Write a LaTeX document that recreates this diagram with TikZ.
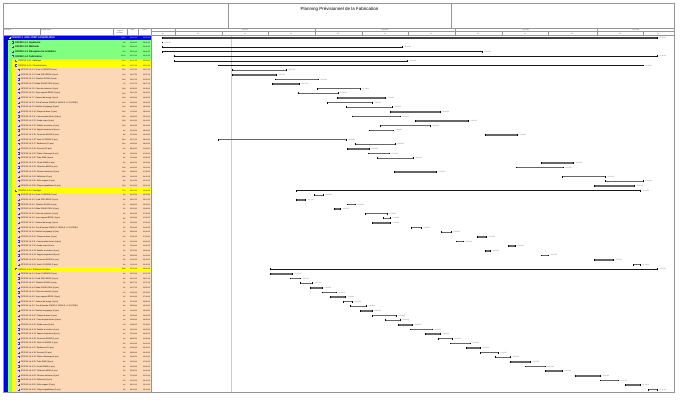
\documentclass[tikz,border=0pt]{standalone}
\usepackage{fontspec}
\setmainfont{Liberation Sans}
\usetikzlibrary{calc}
\definecolor{wbsblue}{RGB}{0,0,235}
\definecolor{wbsgreen}{RGB}{128,255,128}
\definecolor{wbsyellow}{RGB}{255,255,0}
\definecolor{actorange}{RGB}{253,216,182}
\definecolor{cadre}{RGB}{150,150,150}
\definecolor{dateline}{RGB}{200,200,232}
\definecolor{iconblue}{RGB}{40,60,200}
\tikzset{
  titre/.style={inner sep=0pt, font=\fontsize{6.4}{7}\selectfont},
  colhd/.style={inner sep=0pt, font=\fontsize{2.3}{2.6}\selectfont, align=center, text=black!75},
  echelle/.style={inner sep=0pt, font=\fontsize{2.3}{2.6}\selectfont, text=black!75},
  bleutxt/.style={inner sep=0pt, anchor=west, text=white, font=\fontsize{3.6}{4}\selectfont\bfseries},
  verttxt/.style={inner sep=0pt, anchor=west, font=\fontsize{3.4}{4}\selectfont\bfseries},
  jaunetxt/.style={inner sep=0pt, anchor=west, font=\fontsize{3}{3.4}\selectfont},
  acttxt/.style={inner sep=0pt, anchor=west, font=\fontsize{2.8}{3}\selectfont},
  numtxt/.style={inner sep=0pt, anchor=east, font=\fontsize{2.5}{3}\selectfont},
  datetxt/.style={inner sep=0pt, anchor=west, text=black!60, font=\fontsize{2.3}{2.6}\selectfont},
  barre0/.style={line width=0.9mm, black!75},
  sumbar/.style={line width=0.45mm, black!90},
  actbar/.style={line width=0.7mm, black!60},
}
\newcommand{\rowtop}[1]{35.5+#1*4.63}
% date jj-mm-aa a partir de l'abscisse (x=38.5 : 01-06-12)
\newcommand{\dte}[1]{%
  \pgfmathtruncatemacro{\dnum}{round((#1-38.5)/4.55)}%
  \ifnum\dnum<30 \pgfmathtruncatemacro{\dday}{\dnum+1}\def\dmon{06}%
  \else\ifnum\dnum<61 \pgfmathtruncatemacro{\dday}{\dnum-29}\def\dmon{07}%
  \else\ifnum\dnum<92 \pgfmathtruncatemacro{\dday}{\dnum-60}\def\dmon{08}%
  \else\ifnum\dnum<122 \pgfmathtruncatemacro{\dday}{\dnum-91}\def\dmon{09}%
  \else\ifnum\dnum<153 \pgfmathtruncatemacro{\dday}{\dnum-121}\def\dmon{10}%
  \else \pgfmathtruncatemacro{\dday}{\dnum-152}\def\dmon{11}%
  \fi\fi\fi\fi\fi
  \ifnum\dday<10 0\fi\dday-\dmon-12}
\newcommand{\icone}[4]{% x, ligne, couleurs
  \pgfmathsetmacro{\yy}{35.5+(#2+0.5)*4.63}
  \fill[#3] ({#1},{\yy-1.1}) rectangle ({#1+2.2},{\yy+1.1});
  \fill[#4] ({#1+0.5},{\yy-0.6}) rectangle ({#1+1.2},{\yy+0.1});
}
\newcommand{\gbar}[4]{% style, ligne, debut, fin
  \pgfmathsetmacro{\yy}{35.5+(#2+0.5)*4.63}
  \draw[#1] (#3,\yy) -- (#4,\yy);
  \fill ({#3-0.5},{\yy-0.9}) rectangle ({#3+0.5},{\yy+0.9});
  \fill ({#4-0.5},{\yy-0.9}) rectangle ({#4+0.5},{\yy+0.9});
  \node[datetxt] (dt#2) at ({#4+2.5},\yy) {\dte{#4}};
}
\newcommand{\cols}[4]{% ligne, style, debut, fin
  \pgfmathsetmacro{\yy}{35.5+(#1+0.5)*4.63}
  \node[#2,numtxt] (du#1) at (125.5,\yy) {\pgfmathtruncatemacro{\du}{round((#4-#3)/4.55)+1}\du\,d};
  \node[#2,numtxt] (st#1) at (137.3,\yy) {\dte{#3}};
  \node[#2,numtxt] (fi#1) at (150.3,\yy) {\dte{#4}};
}
\newcommand{\wbsrow}[7]{% ligne, x texte, style, texte, debut, fin, barre
  \pgfmathsetmacro{\yy}{35.5+(#1+0.5)*4.63}
  \node[#3] (nm#1) at (#2,\yy) {#4};
  \cols{#1}{#3}{#5}{#6}
  \gbar{#7}{#1}{#5}{#6}
}
\newcommand{\actrow}[5]{% ligne, code, libelle, debut, fin
  \icone{17.5}{#1}{iconblue}{white}
  \pgfmathsetmacro{\yy}{35.5+(#1+0.5)*4.63}
  \node[acttxt] (nm#1) at (20.7,\yy) {#2\ \ #3};
  \cols{#1}{acttxt}{#4}{#5}
  \gbar{actbar}{#1}{#4}{#5}
}

\begin{document}
\begin{tikzpicture}[x=0.5mm,y=-0.5mm]
\useasboundingbox (0,0) rectangle (680,403);

% cartouche
\draw[cadre] (3,3) rectangle (674,28);
\draw[cadre] (228,3) -- (228,28);
\draw[cadre] (451,3) -- (451,28);
\node[titre] (titre) at (339.5,9.5) {Planning Prévisionnel de la Fabrication};

% fonds
\fill[wbsblue] (3,{\rowtop{0}}) rectangle (151,{\rowtop{1}});
\fill[wbsblue] (3,{\rowtop{1}}) rectangle (8.3,392);
\fill[wbsgreen] (8.3,{\rowtop{1}}) rectangle (151,{\rowtop{5}});
\fill[wbsgreen] (8.3,{\rowtop{5}}) rectangle (11.7,392);
\fill[wbsyellow] (11.7,{\rowtop{5}}) rectangle (151,{\rowtop{7}});
\fill[wbsyellow] (11.7,{\rowtop{7}}) rectangle (15,392);
\fill[actorange] (15,{\rowtop{7}}) rectangle (151,392);
\fill[wbsyellow] (11.7,{\rowtop{33}}) rectangle (151,{\rowtop{34}});
\fill[wbsyellow] (11.7,{\rowtop{50}}) rectangle (151,{\rowtop{51}});

% en-tetes
\draw[cadre] (3,28) rectangle (674,392);
\draw[cadre] (3,35.5) -- (674,35.5);
\foreach \x in {40,113,127,138}
  \draw[cadre] (\x,28) -- (\x,35.5);
\draw[cadre] (151,28) -- (151,392);
\node[colhd,anchor=north west] (hid) at (4,29) {Activity ID};
\node[colhd,anchor=north west] (hname) at (41,29) {Activity Name};
\node[colhd] (hdur) at (120,31.7) {Original\\Duration};
\node[colhd] (hstart) at (132.5,30.3) {Start};
\node[colhd] (hfin) at (144.5,30.3) {Finish};

% echelle de temps
\draw[cadre] (151,31.5) -- (674,31.5);
\foreach \x in {175,315,455,597}
  \draw[cadre] (\x,28) -- (\x,35.5);
\foreach \x in {222,268,362,408,502,548,643}
  \draw[cadre] (\x,31.5) -- (\x,35.5);
\foreach \x/\m in {245/Jul 2012,385/Aug 2012,526/Sep 2012,636/Oct 2012}
  \node[echelle] (m\x) at (\x,29.8) {\m};
\foreach \x/\j in {163/21,198/01,245/11,291/21,338/01,385/11,431/21,478/01,525/11,572/21,620/01,658/11}
  \node[echelle] (j\x) at (\x,33.5) {\j};

\draw[dateline] (231,35.5) -- (231,392);

% WBS
\icone{8.6}{0}{white}{wbsblue}
\wbsrow{0}{11.5}{bleutxt}{OF2012-1\ \ AHF-JORF LASFAR,GISA}{162}{657}{barre0}
\foreach \r in {1,...,4}
  \icone{11.8}{\r}{iconblue}{white};
\wbsrow{1}{15}{verttxt}{OF2012-1.1\ \ Ingénierie}{162}{162}{sumbar}
\wbsrow{2}{15}{verttxt}{OF2012-1.2\ \ Méthode}{162}{402}{sumbar}
\wbsrow{3}{15}{verttxt}{OF2012-1.3\ \ Réception de la Matière}{162}{482}{sumbar}
\wbsrow{4}{15}{verttxt}{OF2012-1.4\ \ Fabrication}{174}{657}{sumbar}
\foreach \r in {5,6,33,50}
  \icone{15.2}{\r}{iconblue}{white};
\wbsrow{5}{18.3}{jaunetxt}{OF2012-1.4.1\ \ Débitage}{174}{407}{sumbar}
\wbsrow{6}{18.3}{jaunetxt}{OF2012-1.4.2\ \ Chaudronnerie}{218}{643}{sumbar}
\wbsrow{33}{18.3}{jaunetxt}{OF2012-1.4.3\ \ Soudage}{296}{640}{sumbar}
\wbsrow{50}{18.3}{jaunetxt}{OF2012-1.4.4\ \ Traitement Surface}{270}{657}{sumbar}

% activites
\foreach \s/\e/\nm [count=\k] in {
  232/286/{Virole V1 Ø2500 (3 pcs)}, 232/276/{Fond GRC Ø2500 (2 pcs)},
  275/318/{Tubulure DN150 (4 pcs)}, 272/299/{Bride DN150 PN16 (4 pcs)},
  317/360/{Cône de réduction (1 pcs)}, 298/338/{Jupe support Ø2500 (1 pcs)},
  337/385/{Anneau de levage (4 pcs)}, 327/372/{Trou d'homme DN600 (1 VIROLE + 1 PLATINE)},
  346/392/{Renfort de piquage (6 pcs)}, 390/440/{Plaque de base (1 pcs)},
  352/400/{Console plate-forme (8 pcs)}, 415/468/{Garde-corps (4 pcs)},
  380/430/{Echelle à crinoline (1 pcs)}, 369/393/{Support tuyauterie (6 pcs)},
  485/517/{Couvercle Ø1200 (1 pcs)}, 218/346/{Virole V2 Ø1200 (2 pcs)},
  355/395/{Raidisseur (12 pcs)}, 347/369/{Gousset (16 pcs)},
  368/389/{Platine d'ancrage (4 pcs)}, 377/413/{Tube DN80 (6 pcs)},
  541/573/{Coude DN80 (4 pcs)}, 516/563/{Collecteur Ø600 (1 pcs)},
  394/436/{Chicane intérieure (3 pcs)}, 562/605/{Déflecteur (2 pcs)},
  605/643/{Grille support (2 pcs)}, 594/634/{Plaque signalétique (1 pcs)}}{
  \pgfmathtruncatemacro{\r}{6+\k}
  \actrow{\r}{OF2012-1.4.2.\k}{\nm}{\s}{\e}
}
\foreach \s/\e/\nm [count=\k] in {
  314/323/{Virole V1 Ø2500 (3 pcs)}, 296/305/{Fond GRC Ø2500 (2 pcs)},
  347/355/{Tubulure DN150 (4 pcs)}, 334/340/{Bride DN150 PN16 (4 pcs)},
  365/387/{Cône de réduction (1 pcs)}, 383/390/{Jupe support Ø2500 (1 pcs)},
  372/390/{Anneau de levage (4 pcs)}, 411/421/{Trou d'homme DN600 (1 VIROLE + 1 PLATINE)},
  441/451/{Renfort de piquage (6 pcs)}, 477/486/{Plaque de base (1 pcs)},
  456/463/{Console plate-forme (8 pcs)}, 508/515/{Garde-corps (4 pcs)},
  485/490/{Echelle à crinoline (1 pcs)}, 541/548/{Support tuyauterie (6 pcs)},
  594/613/{Couvercle Ø1200 (1 pcs)}, 633/640/{Virole V2 Ø1200 (2 pcs)}}{
  \pgfmathtruncatemacro{\r}{33+\k}
  \actrow{\r}{OF2012-1.4.3.\k}{\nm}{\s}{\e}
}
\foreach \s/\e/\nm [count=\k] in {
  270/292/{Virole V1 Ø2500 (3 pcs)}, 290/300/{Fond GRC Ø2500 (2 pcs)},
  300/312/{Tubulure DN150 (4 pcs)}, 310/322/{Bride DN150 PN16 (4 pcs)},
  322/336/{Cône de réduction (1 pcs)}, 330/345/{Jupe support Ø2500 (1 pcs)},
  343/352/{Anneau de levage (4 pcs)}, 350/366/{Trou d'homme DN600 (1 VIROLE + 1 PLATINE)},
  360/372/{Renfort de piquage (6 pcs)}, 372/396/{Plaque de base (1 pcs)},
  385/400/{Console plate-forme (8 pcs)}, 398/412/{Garde-corps (4 pcs)},
  410/432/{Echelle à crinoline (1 pcs)}, 425/440/{Support tuyauterie (6 pcs)},
  438/452/{Couvercle Ø1200 (1 pcs)}, 450/470/{Virole V2 Ø1200 (2 pcs)},
  466/480/{Raidisseur (12 pcs)}, 480/498/{Gousset (16 pcs)},
  495/510/{Platine d'ancrage (4 pcs)}, 510/530/{Tube DN80 (6 pcs)},
  525/545/{Coude DN80 (4 pcs)}, 545/562/{Collecteur Ø600 (1 pcs)},
  575/600/{Chicane intérieure (3 pcs)}, 600/618/{Déflecteur (2 pcs)},
  625/640/{Grille support (2 pcs)}, 648/657/{Plaque signalétique (1 pcs)}}{
  \pgfmathtruncatemacro{\r}{50+\k}
  \actrow{\r}{OF2012-1.4.4.\k}{\nm}{\s}{\e}
}
\end{tikzpicture}
\end{document}
